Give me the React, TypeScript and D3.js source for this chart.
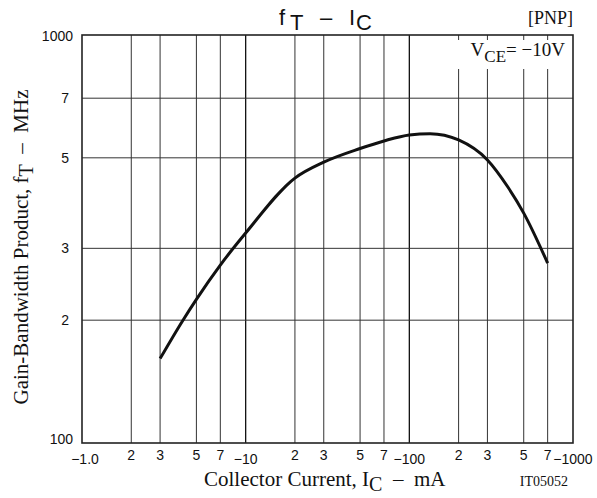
import React from "react";
import * as d3 from "d3";

const icValues = [3, 4.14, 5, 7, 10, 20, 30, 50, 70, 100, 134, 200, 300, 400, 500, 700];
const ftValues = [161, 200, 225, 273, 327, 446, 488, 527, 550, 569, 573, 553, 494, 424, 366, 276];
const xMinorMultipliers = [2, 3, 5, 7];
const xDecades = [1, 10, 100, 1000];
const xDecadeLabels = ["\u22121.0", "\u221210", "\u2212100", "\u22121000"];
const yGridValues = [200, 300, 500, 700];
const yTickLabels = ["2", "3", "5", "7"];

const W = 597;
const H = 498;
const M = { left: 82, right: 573, top: 35, bottom: 443 };

export default function App() {
  const x = d3.scaleLog().domain([1, 1000]).range([M.left, M.right]);
  const y = d3.scaleLog().domain([100, 1000]).range([M.bottom, M.top]);

  const minorX: number[] = [];
  for (const d of [1, 10, 100]) for (const m of xMinorMultipliers) minorX.push(d * m);

  const line = d3
    .line<number>()
    .x((_, i) => x(icValues[i]))
    .y((v) => y(v))
    .curve(d3.curveMonotoneX);

  const sans = "'Liberation Sans', Arial, sans-serif";
  const serif = "'Liberation Serif', 'Times New Roman', serif";
  const gridColor = "#333";

  return (
    <svg
      width={W}
      height={H}
      style={{ position: "absolute", left: 0, top: 0, background: "#fff" }}
    >
      <rect x={0} y={0} width={W} height={H} fill="#fff" />
      {minorX.map((v) => (
        <line key={"vx" + v} x1={x(v)} x2={x(v)} y1={M.top} y2={M.bottom} stroke={gridColor} strokeWidth={1} />
      ))}
      {xDecades.slice(1, 3).map((v) => (
        <line key={"vd" + v} x1={x(v)} x2={x(v)} y1={M.top} y2={M.bottom} stroke="#111" strokeWidth={1.3} />
      ))}
      {yGridValues.map((v) => (
        <line key={"hy" + v} x1={M.left} x2={M.right} y1={y(v)} y2={y(v)} stroke={gridColor} strokeWidth={1} />
      ))}
      <rect x={440} y={40} width={M.right - 440} height={29} fill="#fff" />
      <text x={565} y={56} textAnchor="end" fontFamily={serif} fontSize={19} fill="#111">
        V
        <tspan fontSize={17} dy={6}>CE</tspan>
        <tspan dy={-6}>= {"\u2212"}10V</tspan>
      </text>
      <rect
        x={M.left}
        y={M.top}
        width={M.right - M.left}
        height={M.bottom - M.top}
        fill="none"
        stroke="#222"
        strokeWidth={1.6}
      />
      <path d={line(ftValues) || ""} fill="none" stroke="#111" strokeWidth={3} />

      <text x={73} y={y(1000) + 1} textAnchor="end" dominantBaseline="central" fontFamily={sans} fontSize={14} fill="#111">
        1000
      </text>
      <text x={73} y={y(100) - 4} textAnchor="end" dominantBaseline="central" fontFamily={sans} fontSize={14} fill="#111">
        100
      </text>
      {yGridValues.map((v, i) => (
        <text key={"yl" + v} x={69} y={y(v)} textAnchor="end" dominantBaseline="central" fontFamily={sans} fontSize={14} fill="#111">
          {yTickLabels[i]}
        </text>
      ))}

      {minorX.map((v) => (
        <text key={"xl" + v} x={x(v)} y={460} textAnchor="middle" fontFamily={sans} fontSize={14} fill="#111">
          {String(Math.round(v / Math.pow(10, Math.floor(Math.log10(v) + 1e-9))))}
        </text>
      ))}
      {xDecades.map((v, i) => (
        <text key={"xd" + v} x={x(v) + (i === 0 ? 3 : 0)} y={464} textAnchor="middle" fontFamily={sans} fontSize={14} fill="#111">
          {xDecadeLabels[i]}
        </text>
      ))}

      <g fontFamily={sans} fontSize={22} fill="#111">
        <text x={279} y={25}>f</text>
        <text x={290} y={30}>T</text>
        <text x={320} y={25}>{"\u2013"}</text>
        <text x={349} y={25}>I</text>
        <text x={356} y={30}>C</text>
      </g>
      <text x={573} y={24} textAnchor="end" fontFamily={serif} fontSize={18} fill="#111">
        [PNP]
      </text>

      <text x={204} y={486} fontFamily={serif} fontSize={21} fill="#111" style={{ whiteSpace: "pre" }}>
        Collector Current, I
        <tspan fontSize={20} dy={5}>C</tspan>
        <tspan dy={-5}>{"  \u2013  mA"}</tspan>
      </text>
      <text x={568} y={486} textAnchor="end" fontFamily={serif} fontSize={14} fill="#111">
        IT05052
      </text>

      <text
        transform={`translate(28, 247) rotate(-90)`}
        textAnchor="middle"
        fontFamily={serif}
        fontSize={21}
        fill="#111"
        style={{ whiteSpace: "pre" }}
      >
        Gain-Bandwidth Product, f
        <tspan fontSize={20} dy={5}>T</tspan>
        <tspan dy={-5}>{"  \u2013  MHz"}</tspan>
      </text>
    </svg>
  );
}
